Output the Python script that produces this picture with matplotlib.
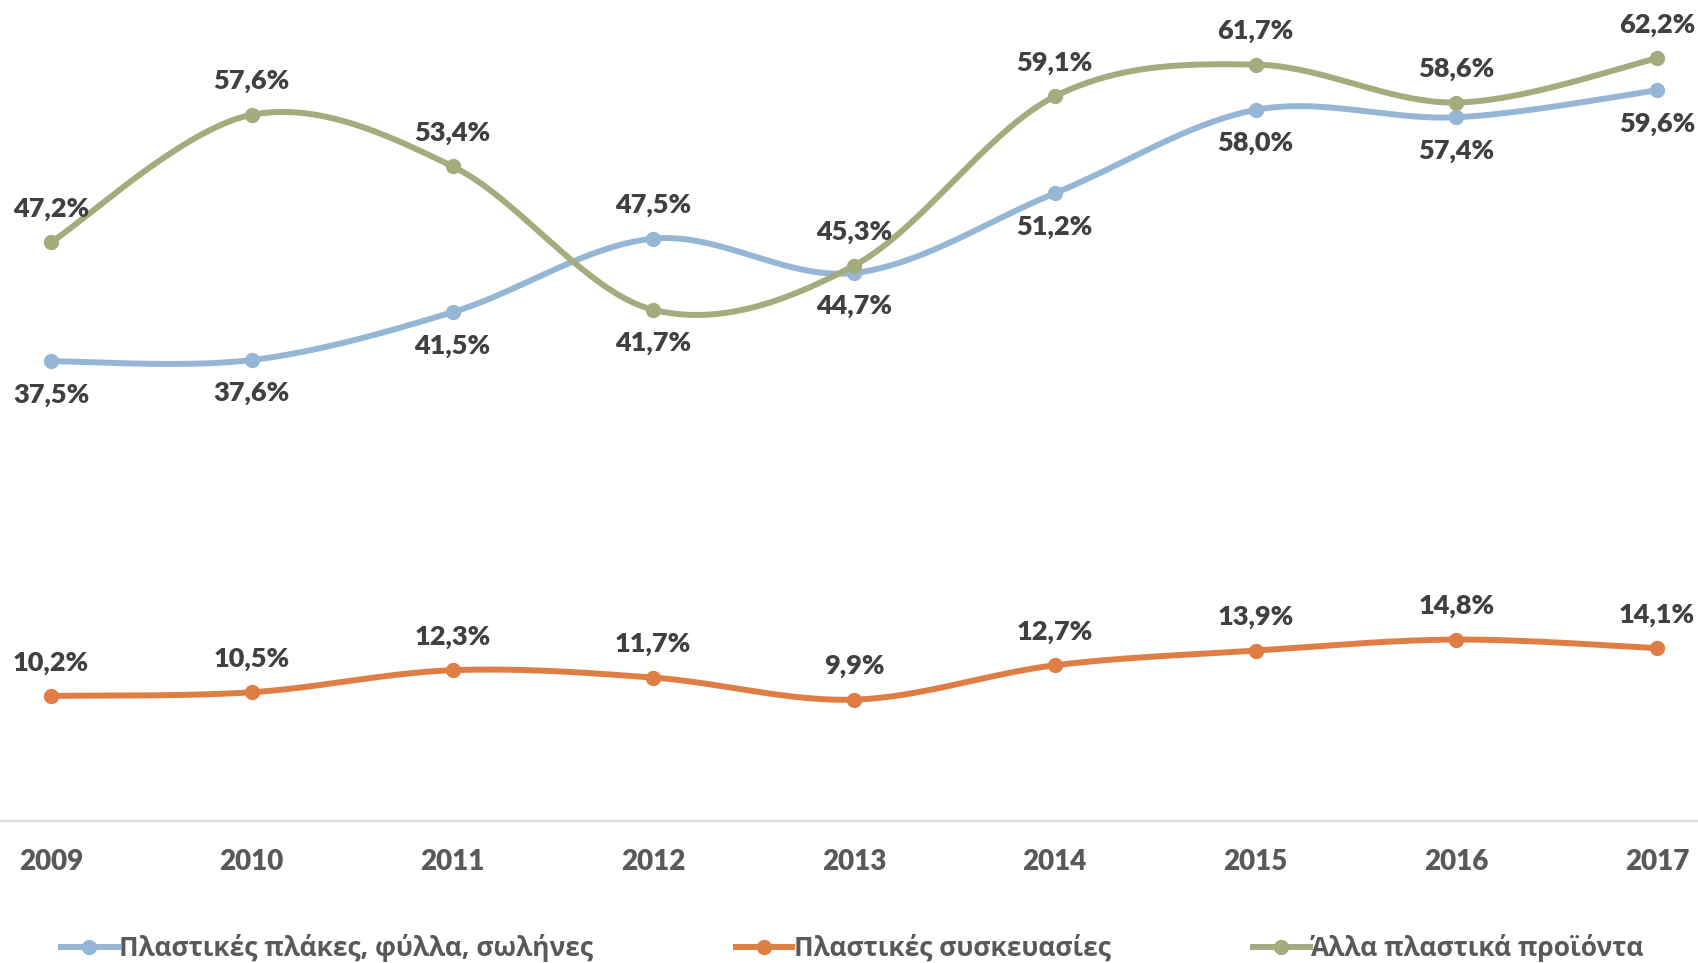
import numpy as np
import matplotlib
matplotlib.use("Agg")
import matplotlib.pyplot as plt
from matplotlib.lines import Line2D

# ------------------------------------------
# Data
# ------------------------------------------
years = ["2009", "2010", "2011", "2012", "2013", "2014", "2015", "2016", "2017"]
plakes = [37.5, 37.6, 41.5, 47.5, 44.7, 51.2, 58.0, 57.4, 59.6]
syskeuasies = [10.2, 10.5, 12.3, 11.7, 9.9, 12.7, 13.9, 14.8, 14.1]
alla = [47.2, 57.6, 53.4, 41.7, 45.3, 59.1, 61.7, 58.6, 62.2]

names = ["Πλαστικές πλάκες, φύλλα, σωλήνες",
         "Πλαστικές συσκευασίες",
         "Άλλα πλαστικά προϊόντα"]
colors = ["#95B7D5", "#DF7E44", "#A3AC7D"]

# label above (+1) or below (-1) each point
pos_plakes = [-1, -1, -1, 1, -1, -1, -1, -1, -1]
pos_syskeuasies = [1] * 9
pos_alla = [1, 1, 1, -1, 1, 1, 1, 1, 1]


def smooth(xs, ys, n=40):
    # Catmull-Rom style bezier, like spreadsheet "smoothed line"
    xs = np.asarray(xs, float)
    ys = np.asarray(ys, float)
    P = np.column_stack([xs, ys])
    P = np.vstack([P[0], P, P[-1]])
    out = []
    t = np.linspace(0, 1, n)[:, None]
    for i in range(1, len(P) - 2):
        p0, p3 = P[i], P[i + 1]
        p1 = p0 + (P[i + 1] - P[i - 1]) / 6
        p2 = p3 - (P[i + 2] - P[i]) / 6
        seg = ((1 - t) ** 3) * p0 + 3 * ((1 - t) ** 2) * t * p1 \
            + 3 * (1 - t) * t ** 2 * p2 + t ** 3 * p3
        out.append(seg)
    seg = np.vstack(out)
    return seg[:, 0], seg[:, 1]


def fmt(v):
    return f"{v:.1f}".replace(".", ",") + "%"


fig = plt.figure(figsize=(16.98, 9.63), dpi=100)
ax = fig.add_axes([0, 1 - 821 / 963, 1, 821 / 963])

x = np.arange(len(years))
series = [(plakes, pos_plakes), (syskeuasies, pos_syskeuasies), (alla, pos_alla)]

for (vals, pos), c in zip(series, colors):
    sx, sy = smooth(x, vals)
    ax.plot(sx, sy, color=c, lw=4.3, solid_capstyle="round", zorder=2)
    ax.plot(x, vals, "o", color=c, ms=10, zorder=3)
    for xi, v, p in zip(x, vals, pos):
        ax.annotate(fmt(v), (xi, v), xytext=(0, 24 * p), textcoords="offset points",
                    ha="center", va="center", fontsize=19.5, fontweight="heavy",
                    color="#404040", family=["Lato", "DejaVu Sans"], zorder=4)

step = (1657 - 51) / 8
ax.set_xlim(-51 / step, (1698 - 51) / step)
ax.set_ylim(0, 821 / 12.26)

for s in ["top", "right", "left"]:
    ax.spines[s].set_visible(False)
ax.spines["bottom"].set_color("#D9D9D9")
ax.spines["bottom"].set_linewidth(1.6)
ax.set_yticks([])
ax.set_xticks(x)
ax.set_xticklabels(years, fontsize=20, fontweight="heavy", color="#595959",
                   family=["Lato", "DejaVu Sans"])
ax.tick_params(axis="x", length=0, pad=20)

handles = [Line2D([0], [0], color=c, lw=4.3, marker="o", ms=10) for c in colors]
fig.legend(handles, names, loc="center left", bbox_to_anchor=(61 / 1698, 1 - 948 / 963),
           ncol=3, frameon=False, handlelength=2.15, handletextpad=0.05,
           columnspacing=5.4, borderaxespad=0, borderpad=0, labelcolor="#595959",
           prop={"family": ["Open Sans", "DejaVu Sans"], "size": 19,
                 "weight": "bold"})

fig.savefig("out.png", dpi=100)
